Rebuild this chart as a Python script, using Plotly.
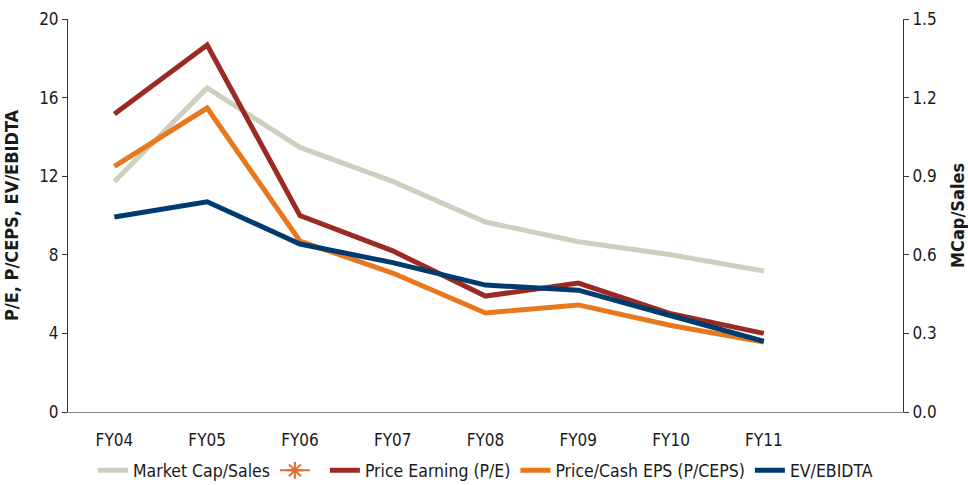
import plotly.graph_objects as go

categories = ["FY04", "FY05", "FY06", "FY07", "FY08", "FY09", "FY10", "FY11", " "]
mcap_sales = [0.88, 1.237, 1.01, 0.88, 0.725, 0.65, 0.60, 0.538]
pe = [15.17, 18.68, 10.0, 8.2, 5.9, 6.56, 5.0, 4.0]
pceps = [12.5, 15.47, 8.7, 7.07, 5.04, 5.45, 4.4, 3.56]
ev_ebidta = [9.92, 10.7, 8.55, 7.6, 6.46, 6.2, 4.9, 3.6]
left_ticks = [0, 4, 8, 12, 16, 20]
right_ticks = [0.0, 0.3, 0.6, 0.9, 1.2, 1.5]

FONT = "DejaVu Sans Condensed, DejaVu Sans, sans-serif"
cats = categories[:8]

fig = go.Figure()
fig.add_trace(go.Scatter(x=cats, y=mcap_sales, name="Market Cap/Sales", mode="lines",
                         line=dict(color="#D0CEBD", width=5), yaxis="y"))
fig.add_trace(go.Scatter(x=[None], y=[None], name=" ", mode="lines+markers",
                         line=dict(color="#E46C2A", width=2),
                         marker=dict(symbol="asterisk-open", size=14, color="#E46C2A",
                                     line=dict(color="#E46C2A", width=2)), yaxis="y2"))
fig.add_trace(go.Scatter(x=cats, y=pe, name="Price Earning (P/E)", mode="lines",
                         line=dict(color="#9B2A22", width=5), yaxis="y2"))
fig.add_trace(go.Scatter(x=cats, y=pceps, name="Price/Cash EPS (P/CEPS)", mode="lines",
                         line=dict(color="#E8781E", width=5), yaxis="y2"))
fig.add_trace(go.Scatter(x=cats, y=ev_ebidta, name="EV/EBIDTA", mode="lines",
                         line=dict(color="#003B6F", width=5), yaxis="y2"))

fig.update_layout(
    width=968, height=485,
    margin=dict(l=68, r=65, t=19, b=73, autoexpand=False),
    paper_bgcolor="white", plot_bgcolor="white",
    font=dict(family=FONT, size=17, color="#1a1a1a"),
    showlegend=True,
    legend=dict(orientation="h", x=0.5, xanchor="center", y=-0.103, yanchor="top",
                font=dict(size=17.5), itemwidth=30, tracegroupgap=0),
    xaxis=dict(categoryorder="array", categoryarray=categories, range=[-0.5, 8.5],
               showgrid=False, showline=True, linecolor="#888888", linewidth=1,
               ticks="", tickfont=dict(size=17), ticklabelstandoff=13,
               zeroline=False, automargin=False),
    yaxis=dict(side="right", range=[0, 1.5], tickvals=right_ticks,
               ticktext=[f"{v:.1f}" for v in right_ticks],
               showgrid=False, showline=True, linecolor="#333333", linewidth=1,
               ticks="outside", ticklen=5, tickcolor="#333333", tickfont=dict(size=17),
               zeroline=False, automargin=False,
               title=dict(text="<b>MCap/Sales</b>", font=dict(size=18))),
    yaxis2=dict(side="left", overlaying="y", range=[0, 20], tickvals=left_ticks,
                showgrid=False, showline=True, linecolor="#333333", linewidth=1,
                ticks="outside", ticklen=5, tickcolor="#333333", tickfont=dict(size=17),
                zeroline=False, automargin=False,
                title=dict(text="<b>P/E, P/CEPS, EV/EBIDTA</b>", font=dict(size=18))),
)

fig.write_html("out.html", config={"displayModeBar": False},
               post_script="document.body.style.margin='0';")
